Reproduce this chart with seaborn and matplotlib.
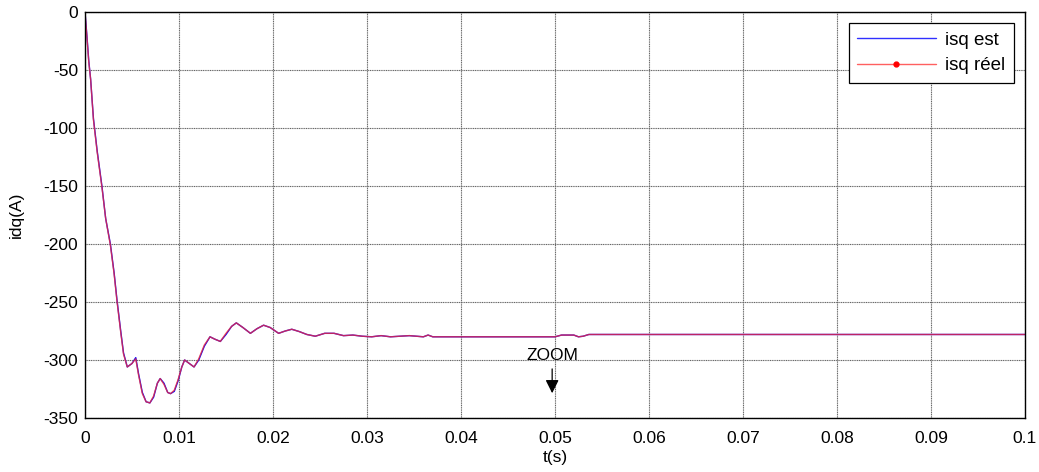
import numpy as np
import pandas as pd
import matplotlib
matplotlib.use("Agg")
import matplotlib.pyplot as plt
import seaborn as sns
from matplotlib.lines import Line2D

# temps (s) et courants isq (A)
t = [0, 0.0001, 0.0002, 0.0004, 0.0006, 0.0009, 0.0013, 0.0018, 0.0022, 0.0027,
     0.0031, 0.0034, 0.0038, 0.0041, 0.0045, 0.0050, 0.0054, 0.0057, 0.0061, 0.0065,
     0.0069, 0.0073, 0.0077, 0.0080, 0.0084, 0.0088, 0.0091, 0.0095, 0.0099, 0.0103,
     0.0106, 0.0111, 0.0116, 0.0121, 0.0127, 0.0133, 0.0138, 0.0144, 0.0150, 0.0156,
     0.0161, 0.0168, 0.0176, 0.0183, 0.0190, 0.0197, 0.0206, 0.0213, 0.0220, 0.0228,
     0.0236, 0.0245, 0.0255, 0.0265, 0.0275, 0.0285, 0.0295, 0.0305, 0.0315, 0.0325,
     0.0335, 0.0345, 0.0360, 0.0365, 0.0370, 0.0400, 0.0450, 0.0500, 0.0507, 0.0520,
     0.0525, 0.0530, 0.0536, 0.0600, 0.0700, 0.0800, 0.0900, 0.1000]

isq_est = [0, -10, -20, -42, -58, -92, -120, -150, -178, -200,
           -225, -248, -275, -294, -306, -303, -298, -312, -328, -336,
           -337, -332, -320, -316, -320, -328, -329, -327, -318, -306,
           -300, -303, -306, -300, -288, -280, -282, -284, -278, -271,
           -268, -272, -277, -273, -270, -272, -277, -275, -273.5, -275.5,
           -278, -279.5, -277, -277, -279, -278.5, -279.5, -280, -279, -280,
           -279.5, -279, -280, -278.5, -280, -280, -280, -280, -278.5, -278.5,
           -280, -279.5, -278, -278, -278, -278, -278, -278]

isq_reel = [0, -11, -21, -43, -58, -93, -121, -151, -178, -201,
            -226, -249, -276, -295, -306, -303, -299, -313, -329, -336,
            -337, -331, -320, -316, -321, -328, -329, -326, -317, -306,
            -300, -303, -306, -299, -287, -280, -282, -284, -277, -271,
            -268, -272, -277, -273, -270, -272, -277, -275, -273.5, -275.5,
            -278, -279.5, -277, -277, -279, -278.5, -279.5, -280, -279, -280,
            -279.5, -279, -280, -278.5, -280, -280, -280, -280, -278.5, -278.5,
            -280, -279.5, -278, -278, -278, -278, -278, -278]

x_ticks = [0, 0.01, 0.02, 0.03, 0.04, 0.05, 0.06, 0.07, 0.08, 0.09, 0.1]
x_labels = ["0", "0.01", "0.02", "0.03", "0.04", "0.05", "0.06", "0.07", "0.08", "0.09", "0.1"]
y_ticks = [-350, -300, -250, -200, -150, -100, -50, 0]

df = pd.DataFrame({"t": t, "est": isq_est, "reel": isq_reel})

sns.set_style("white")
plt.rcParams["font.family"] = ["Liberation Sans", "DejaVu Sans"]
plt.rcParams["axes.unicode_minus"] = False
plt.rcParams["text.color"] = "k"
plt.rcParams["axes.labelcolor"] = "k"

fig = plt.figure(figsize=(10.39, 4.72), dpi=100)
ax = fig.add_axes([0.0818, 0.1144, 0.9047, 0.8602])

sns.lineplot(data=df, x="t", y="est", ax=ax, color="#0000ff", lw=1.0)
sns.lineplot(data=df, x="t", y="reel", ax=ax, color="#ff3030", lw=1.0, alpha=0.75)

ax.set_xlim(0, 0.1)
ax.set_ylim(-350, 0)
ax.set_xticks(x_ticks)
ax.set_xticklabels(x_labels)
ax.set_yticks(y_ticks)
ax.grid(True, color="#666666", lw=0.8, ls=(0, (1, 0.6)))
ax.tick_params(direction="in", labelsize=12.5, length=4, color="k", labelcolor="k")
ax.tick_params(axis="x", pad=9)
ax.tick_params(axis="y", pad=5)
for s in ax.spines.values():
    s.set_color("k")
    s.set_linewidth(1.0)
ax.set_xlabel("t(s)", fontsize=12.5, labelpad=3)
ax.set_ylabel("idq(A)", fontsize=12.5, labelpad=14)

# fleche ZOOM
ax.annotate("ZOOM", xy=(0.0497, -331), xytext=(0.0497, -296),
            ha="center", va="center", fontsize=12.5,
            arrowprops=dict(arrowstyle="-|>", color="k", lw=0.9, mutation_scale=20))

handles = [Line2D([], [], color="#3030ff", lw=1.0),
           Line2D([], [], color="#ff6060", lw=1.0, marker=".", ms=7, mfc="red", mec="red")]
leg = ax.legend(handles, ["isq est", "isq réel"], loc="upper right", fontsize=13.5,
                frameon=True, fancybox=False, edgecolor="k", framealpha=1,
                borderaxespad=0.6, handlelength=4.2, handletextpad=0.5,
                labelspacing=0.45, borderpad=0.45, numpoints=1)
leg.get_frame().set_linewidth(0.9)

fig.savefig("out.png", dpi=100)
